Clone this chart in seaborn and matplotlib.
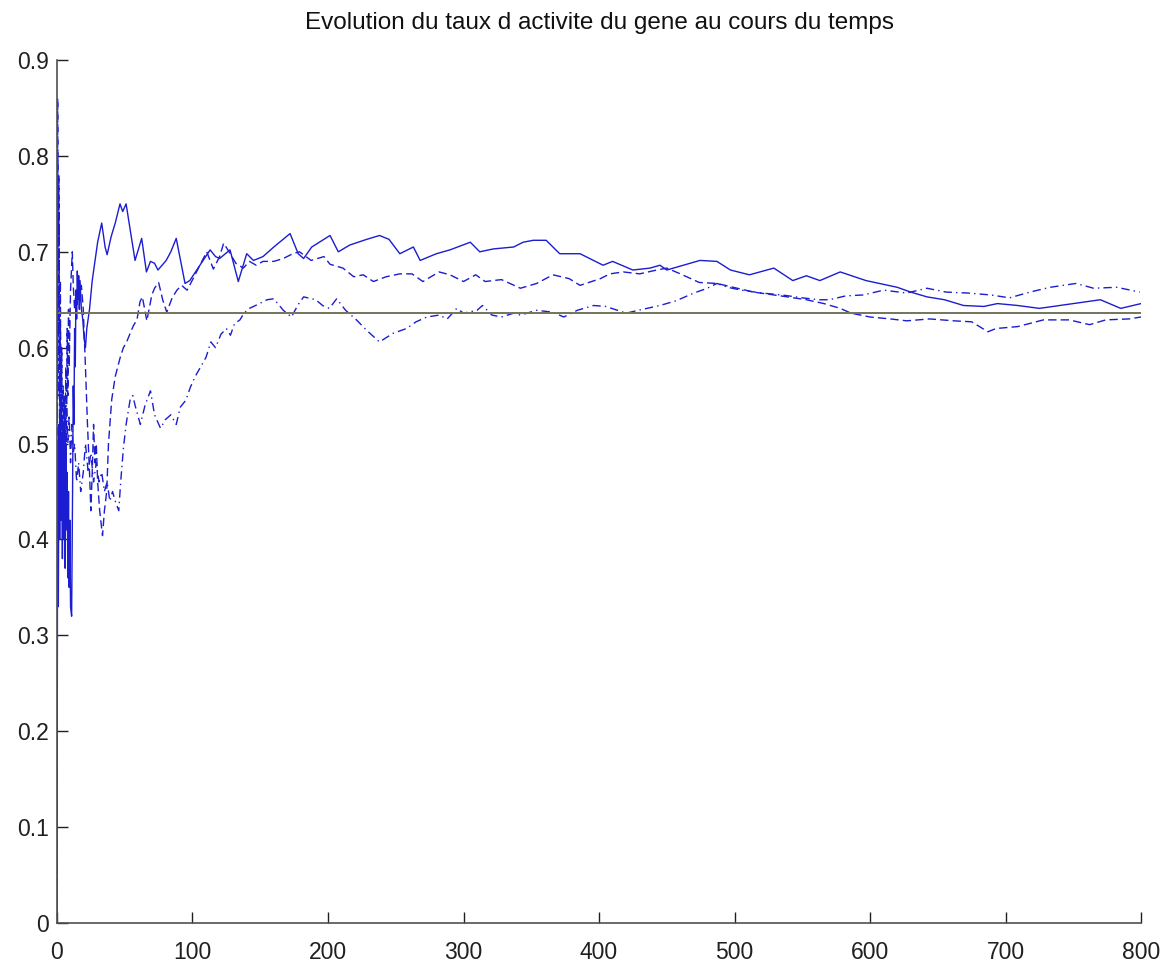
import numpy as np
import pandas as pd
import matplotlib
matplotlib.use("Agg")
import matplotlib.pyplot as plt
import seaborn as sns

title = "Evolution du taux d activite du gene au cours du temps"
x_ticks = [0, 100, 200, 300, 400, 500, 600, 700, 800]
y_ticks = [0, 0.1, 0.2, 0.3, 0.4, 0.5, 0.6, 0.7, 0.8, 0.9]
y_tick_labels = ["0", "0.1", "0.2", "0.3", "0.4", "0.5", "0.6", "0.7", "0.8", "0.9"]
reference_level = 0.6366

solid_x = [0, 0.5, 1.0, 1.5, 2, 2.5, 3, 3.5, 4, 4.5, 5, 5.5, 6, 6.5, 7, 7.5, 8, 8.5, 9, 9.5,
           10, 10.8, 11.5, 12, 12.5, 13, 13.5, 14, 14.5, 15, 15.5, 16, 16.5, 17, 18, 19, 20, 21,
           22, 23, 24, 26, 28, 30, 33, 35.5, 37, 40, 43, 46.5, 48.5, 51, 54, 57.6, 62.5, 66, 69,
           72, 74.5, 80.6, 84, 88, 94.5, 98, 105, 113, 117, 120, 127.7, 133.8, 140, 145, 152,
           160, 172, 178, 182, 188, 201.5, 207.6, 216, 228.6, 238, 245, 253, 263, 268, 280, 290,
           305, 312, 322, 337, 344, 351.5, 361, 371, 386, 403, 410, 425, 437.6, 445, 450, 474.5,
           487, 497, 511, 529, 543, 553, 563, 578, 597, 620, 630, 642, 655, 669, 684, 694, 709,
           725, 740, 750, 770, 785, 800]
solid_y = [0.0, 0.5, 0.33, 0.52, 0.40, 0.55, 0.42, 0.50, 0.38, 0.52, 0.40, 0.48, 0.37, 0.50,
           0.41, 0.47, 0.36, 0.45, 0.35, 0.42, 0.33, 0.32, 0.45, 0.56, 0.52, 0.62, 0.58, 0.66,
           0.63, 0.68, 0.65, 0.675, 0.64, 0.67, 0.64, 0.63, 0.61, 0.60, 0.62, 0.63, 0.64, 0.67,
           0.69, 0.71, 0.73, 0.705, 0.697, 0.716, 0.73, 0.75, 0.742, 0.75, 0.723, 0.691, 0.714,
           0.679, 0.69, 0.688, 0.681, 0.691, 0.70, 0.714, 0.667, 0.67, 0.685, 0.702, 0.695,
           0.693, 0.702, 0.669, 0.698, 0.691, 0.695, 0.705, 0.719, 0.698, 0.693, 0.705, 0.717,
           0.700, 0.707, 0.713, 0.717, 0.713, 0.698, 0.705, 0.691, 0.698, 0.702, 0.710, 0.700,
           0.703, 0.705, 0.710, 0.712, 0.712, 0.698, 0.698, 0.686, 0.690, 0.681, 0.683, 0.686,
           0.681, 0.691, 0.690, 0.681, 0.676, 0.683, 0.670, 0.675, 0.670, 0.679, 0.670, 0.663,
           0.658, 0.653, 0.650, 0.644, 0.643, 0.646, 0.644, 0.641, 0.644, 0.646, 0.650, 0.641,
           0.646]

dashed_x = [0, 0.5, 1.0, 1.5, 2, 2.5, 3, 3.5, 4, 4.5, 5, 5.5, 6, 6.5, 7, 7.5, 8, 8.5, 9, 10,
            11.3, 12, 13, 14, 15, 16, 17, 18, 19.4, 21, 22.5, 24, 25, 26, 27, 28, 29, 30, 31.5,
            33.6, 35, 36.7, 38, 40.4, 43, 46.5, 49, 51.4, 54, 56.4, 59, 61.3, 63, 66.3, 70, 72,
            75, 78, 81, 85, 88.5, 92, 96, 99, 105.5, 110.5, 115.4, 120, 123, 127, 132, 137.5,
            142, 147, 152, 160, 167, 174, 179, 187.5, 197, 201.5, 211, 219, 226, 233.5, 243,
            253, 262, 270, 282, 290, 300, 309, 316, 328, 342, 354, 366, 378, 386, 401, 408, 418,
            430, 442.6, 450, 460, 474, 487, 499, 514, 529, 539, 553, 566, 578, 586, 600, 615,
            627, 644, 662, 675, 687, 693, 709, 728, 747, 762, 774, 791, 800]
dashed_y = [0.0, 0.86, 0.62, 0.75, 0.55, 0.67, 0.50, 0.60, 0.46, 0.56, 0.44, 0.55, 0.48, 0.58,
            0.50, 0.62, 0.55, 0.64, 0.58, 0.66, 0.70, 0.665, 0.64, 0.66, 0.645, 0.67, 0.655,
            0.665, 0.64, 0.58, 0.52, 0.47, 0.43, 0.47, 0.52, 0.48, 0.50, 0.46, 0.43, 0.404,
            0.43, 0.45, 0.50, 0.546, 0.57, 0.589, 0.60, 0.606, 0.615, 0.623, 0.629, 0.648,
            0.653, 0.628, 0.655, 0.662, 0.668, 0.65, 0.637, 0.652, 0.660, 0.665, 0.66, 0.668,
            0.686, 0.70, 0.682, 0.695, 0.709, 0.70, 0.688, 0.683, 0.69, 0.686, 0.69, 0.690,
            0.693, 0.698, 0.70, 0.691, 0.695, 0.687, 0.683, 0.674, 0.676, 0.669, 0.674, 0.677,
            0.677, 0.669, 0.679, 0.676, 0.669, 0.676, 0.669, 0.671, 0.662, 0.667, 0.676, 0.672,
            0.665, 0.672, 0.677, 0.679, 0.677, 0.681, 0.683, 0.677, 0.668, 0.667, 0.663, 0.658,
            0.655, 0.653, 0.650, 0.646, 0.641, 0.636, 0.632, 0.630, 0.628, 0.630, 0.628, 0.627,
            0.6166, 0.620, 0.622, 0.629, 0.629, 0.624, 0.629, 0.630, 0.632]

dashdot_x = [0, 0.5, 1, 1.5, 2, 2.5, 3, 3.5, 4, 5, 6, 7, 8, 9, 10, 11, 12, 13, 14.5, 16, 17.5,
             19.4, 21, 23, 25, 27, 29, 31, 33, 35, 37, 39, 41, 43, 45.6, 47, 49, 51, 54, 56,
             57.6, 61.5, 65, 69, 72, 76.4, 80, 84, 88, 91, 95, 98.5, 102, 106, 110, 113.5, 117,
             121, 125, 128, 131, 135, 138, 142, 148, 155, 160, 167, 173, 178, 182, 191, 196, 201,
             206.4, 213, 221, 228.6, 238, 248, 258, 265, 273, 282, 288, 295, 300, 310, 314, 321,
             328, 337, 342, 354, 366, 374, 384, 396, 405, 420, 429, 445, 457, 470, 480, 487, 495,
             505, 520, 535, 550, 562, 570, 582, 595, 610, 627, 642, 656, 672, 689, 703, 718, 733,
             752, 765, 782, 799]
dashdot_y = [0.0, 0.80, 0.55, 0.78, 0.50, 0.62, 0.45, 0.55, 0.48, 0.52, 0.47, 0.55, 0.50, 0.53,
             0.48, 0.52, 0.49, 0.50, 0.46, 0.48, 0.45, 0.47, 0.50, 0.47, 0.49, 0.46, 0.48, 0.46,
             0.47, 0.45, 0.46, 0.44, 0.45, 0.44, 0.43, 0.46, 0.495, 0.52, 0.546, 0.55, 0.54,
             0.52, 0.54, 0.555, 0.53, 0.516, 0.525, 0.53, 0.52, 0.538, 0.545, 0.559, 0.57, 0.58,
             0.59, 0.606, 0.60, 0.614, 0.62, 0.613, 0.625, 0.629, 0.636, 0.641, 0.645, 0.650,
             0.651, 0.639, 0.632, 0.645, 0.653, 0.650, 0.644, 0.641, 0.651, 0.639, 0.629, 0.618,
             0.606, 0.615, 0.620, 0.627, 0.632, 0.634, 0.630, 0.641, 0.636, 0.639, 0.644, 0.634,
             0.632, 0.636, 0.634, 0.639, 0.637, 0.632, 0.639, 0.644, 0.643, 0.636, 0.639, 0.644,
             0.649, 0.657, 0.662, 0.667, 0.663, 0.660, 0.657, 0.655, 0.652, 0.650, 0.650, 0.654,
             0.655, 0.660, 0.657, 0.662, 0.658, 0.657, 0.655, 0.652, 0.658, 0.663, 0.667, 0.662,
             0.663, 0.658]

sns.set_style("ticks")
plt.rcParams["font.family"] = ["Liberation Sans", "DejaVu Sans"]

fig = plt.figure(figsize=(11.75, 9.65), dpi=100)
ax = fig.add_axes([0.0485, 0.0435, 0.9226, 0.8943])

blue = "#1c1cd0"
df_s = pd.DataFrame({"t": solid_x, "v": solid_y})
df_d = pd.DataFrame({"t": dashed_x, "v": dashed_y})
df_dd = pd.DataFrame({"t": dashdot_x, "v": dashdot_y})
df_ref = pd.DataFrame({"t": [x_ticks[0], x_ticks[-1]], "v": [reference_level, reference_level]})

sns.lineplot(data=df_s, x="t", y="v", ax=ax, color=blue, linewidth=1.0,
             sort=False, estimator=None, linestyle="-")
sns.lineplot(data=df_d, x="t", y="v", ax=ax, color=blue, linewidth=1.0,
             sort=False, estimator=None, linestyle=(0, (6, 3)))
sns.lineplot(data=df_dd, x="t", y="v", ax=ax, color=blue, linewidth=1.0,
             sort=False, estimator=None, linestyle=(0, (6, 3, 1, 3)))
sns.lineplot(data=df_ref, x="t", y="v", ax=ax, color="#74745c", linewidth=1.4,
             sort=False, estimator=None)

ax.set_xlim(0, 800)
ax.set_ylim(0, 0.9)
ax.set_xticks(x_ticks)
ax.set_xticklabels([str(v) for v in x_ticks])
ax.set_yticks(y_ticks)
ax.set_yticklabels(y_tick_labels)
ax.set_xlabel("")
ax.set_ylabel("")
ax.set_title(title, fontsize=17.5, pad=22, color="#111111")
ax.tick_params(direction="in", length=8, width=1, labelsize=16.5, colors="#202020")
ax.tick_params(axis="x", pad=13)
ax.tick_params(axis="y", pad=6)
for s in ["top", "right"]:
    ax.spines[s].set_visible(False)
for s in ["left", "bottom"]:
    ax.spines[s].set_color("#505050")
    ax.spines[s].set_linewidth(1.2)

fig.savefig("out.png", dpi=100)
